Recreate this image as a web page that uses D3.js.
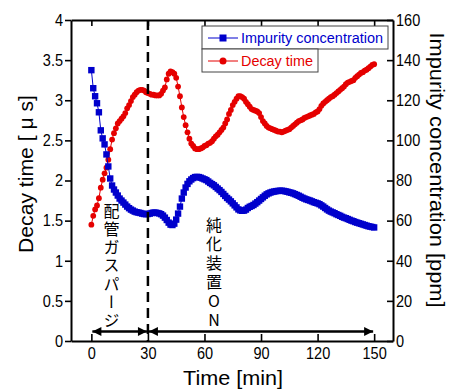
<!DOCTYPE html>
<html>
<head>
<meta charset="utf-8">
<script src="https://cdn.jsdelivr.net/npm/d3@7"></script>
<style>
  body { margin: 0; background: #fff; }
  svg { display: block; }
</style>
</head>
<body>
<div id="chart"></div>
<script>
// Sampling times [min], one reading per minute
const timeMin = [
  0, 1, 2, 3, 4, 5, 6, 7, 8, 9, 10, 11, 12, 13, 14, 15, 16, 17, 18, 19,
  20, 21, 22, 23, 24, 25, 26, 27, 28, 29, 30, 31, 32, 33, 34, 35, 36, 37, 38, 39,
  40, 41, 42, 43, 44, 45, 46, 47, 48, 49, 50, 51, 52, 53, 54, 55, 56, 57, 58, 59,
  60, 61, 62, 63, 64, 65, 66, 67, 68, 69, 70, 71, 72, 73, 74, 75, 76, 77, 78, 79,
  80, 81, 82, 83, 84, 85, 86, 87, 88, 89, 90, 91, 92, 93, 94, 95, 96, 97, 98, 99,
  100, 101, 102, 103, 104, 105, 106, 107, 108, 109, 110, 111, 112, 113, 114, 115, 116, 117, 118, 119,
  120, 121, 122, 123, 124, 125, 126, 127, 128, 129, 130, 131, 132, 133, 134, 135, 136, 137, 138, 139,
  140, 141, 142, 143, 144, 145, 146, 147, 148, 149, 150
];

// Impurity concentration [ppm] (right axis)
const impurityPpm = [
  135, 126, 122, 118.5, 114, 105, 101, 98, 93, 87, 81, 77.5, 75.5, 74, 72.5, 71, 70, 69, 68, 67,
  66.2, 65.5, 65, 64.5, 64.2, 64, 63.8, 63.5, 63.3, 63.2, 63.3, 63.5, 63.8, 64, 64, 63.8, 63.6, 63.2, 62.5, 61.5,
  60.3, 59, 58, 57.8, 58.5, 60.5, 63.5, 67, 71, 74, 76.5, 78.3, 79.6, 80.5, 81.2, 81.7, 81.8, 81.7, 81.4, 81,
  80.6, 80.2, 79.5, 78.8, 78.2, 77.6, 76.8, 76, 75.2, 74.3, 73.3, 72.3, 71.3, 70.5, 69.6, 68.6, 67.6, 66.6, 65.6, 65.1,
  64.9, 65, 65.5, 66.3, 66.9, 67.3, 67.8, 68.5, 69.2, 70, 70.8, 71.6, 72.4, 73.1, 73.6, 74, 74.3, 74.5, 74.7, 74.8,
  74.9, 74.9, 74.8, 74.6, 74.4, 74.1, 73.9, 73.6, 73.2, 72.8, 72.4, 71.9, 71.4, 71, 70.6, 70.3, 70, 69.6, 69.2, 68.9,
  68.6, 68.2, 67.6, 67, 66.3, 65.6, 65, 64.5, 64.1, 63.7, 63.2, 62.8, 62.4, 61.9, 61.5, 61.2, 60.8, 60.4, 60, 59.7,
  59.3, 59, 58.7, 58.4, 58.1, 57.8, 57.5, 57.2, 57, 56.8, 56.6
];

// Decay time [us] (left axis)
const decayUs = [
  1.45, 1.56, 1.64, 1.69, 1.78, 1.91, 2.01, 2.09, 2.16, 2.26, 2.39, 2.51, 2.59, 2.65, 2.71, 2.74, 2.77, 2.80, 2.84, 2.90,
  2.94, 2.99, 3.04, 3.07, 3.10, 3.12, 3.13, 3.13, 3.12, 3.10, 3.09, 3.08, 3.07, 3.07, 3.06, 3.06, 3.06, 3.08, 3.12, 3.16,
  3.26, 3.33, 3.36, 3.35, 3.33, 3.28, 3.17, 3.05, 2.91, 2.79, 2.69, 2.60, 2.52, 2.46, 2.43, 2.40, 2.39, 2.39, 2.40, 2.41,
  2.43, 2.44, 2.46, 2.47, 2.49, 2.52, 2.55, 2.57, 2.60, 2.63, 2.66, 2.71, 2.76, 2.83, 2.88, 2.94, 2.98, 3.02, 3.05, 3.05,
  3.04, 3.02, 2.98, 2.95, 2.92, 2.89, 2.88, 2.87, 2.86, 2.84, 2.79, 2.74, 2.71, 2.68, 2.66, 2.65, 2.64, 2.63, 2.62, 2.61,
  2.61, 2.60, 2.61, 2.62, 2.63, 2.64, 2.66, 2.68, 2.70, 2.72, 2.74, 2.75, 2.76, 2.78, 2.79, 2.80, 2.81, 2.82, 2.83, 2.85,
  2.86, 2.89, 2.93, 2.96, 2.98, 3.00, 3.02, 3.04, 3.05, 3.07, 3.09, 3.11, 3.13, 3.15, 3.17, 3.20, 3.22, 3.23, 3.24, 3.25,
  3.28, 3.30, 3.32, 3.34, 3.35, 3.37, 3.38, 3.40, 3.42, 3.44, 3.45
];

const leftTicks = [0, 0.5, 1, 1.5, 2, 2.5, 3, 3.5, 4];
const rightTicks = [0, 20, 40, 60, 80, 100, 120, 140, 160];
const timeTicks = [0, 30, 60, 90, 120, 150];
const legendLabels = ["Impurity concentration", "Decay time"];
const purgeLabel = "配管ガスパージ";
const purifierLabel = "純化装置ON";

const width = 452, height = 390;
const plotLeft = 71, plotRight = 393, plotTop = 20, plotBottom = 341;
const blue = "#0000cc", red = "#e50000";
const sans = '"Liberation Sans",Arial,sans-serif';
const jp = '"Noto Sans CJK JP","Noto Sans CJK SC",sans-serif';

const svg = d3.select("#chart").append("svg")
    .attr("width", width)
    .attr("height", height);

const defs = svg.append("defs");
defs.append("marker")
    .attr("id", "arrow")
    .attr("viewBox", "0 0 10 10")
    .attr("refX", 10).attr("refY", 5)
    .attr("markerUnits", "userSpaceOnUse")
    .attr("markerWidth", 11).attr("markerHeight", 9)
    .attr("orient", "auto-start-reverse")
    .append("path")
    .attr("d", "M0,0 L10,5 L0,10 Z")
    .attr("fill", "#000");

const x = d3.scaleLinear().domain([-10.8, 160]).range([plotLeft, plotRight]);
const yL = d3.scaleLinear().domain([0, 4]).range([plotBottom, plotTop]);
const yR = d3.scaleLinear().domain([0, 160]).range([plotBottom, plotTop]);

// Series: decay time first, impurity on top
const redLine = d3.line().x((d, i) => x(timeMin[i])).y(d => yL(d));
svg.append("path")
    .attr("d", redLine(decayUs))
    .attr("fill", "none")
    .attr("stroke", red)
    .attr("stroke-width", 1);
svg.append("g")
    .selectAll("circle")
    .data(decayUs)
    .join("circle")
    .attr("cx", (d, i) => x(timeMin[i]))
    .attr("cy", d => yL(d))
    .attr("r", 2.9)
    .attr("fill", red);

const blueLine = d3.line().x((d, i) => x(timeMin[i])).y(d => yR(d));
svg.append("path")
    .attr("d", blueLine(impurityPpm))
    .attr("fill", "none")
    .attr("stroke", blue)
    .attr("stroke-width", 1);
svg.append("g")
    .selectAll("rect")
    .data(impurityPpm)
    .join("rect")
    .attr("x", (d, i) => x(timeMin[i]) - 3.2)
    .attr("y", d => yR(d) - 3.2)
    .attr("width", 6.4)
    .attr("height", 6.4)
    .attr("fill", blue);

// Dashed line at 30 min
svg.append("line")
    .attr("x1", x(30)).attr("x2", x(30))
    .attr("y1", plotTop).attr("y2", plotBottom)
    .attr("stroke", "#000")
    .attr("stroke-width", 2.5)
    .attr("stroke-dasharray", "10,6");

// Double arrows for the two phases
const arrowY = 331.5;
[[0, 30], [30, 150]].forEach(([a, b]) => {
    svg.append("line")
        .attr("x1", x(a) + 1).attr("x2", x(b) - 1)
        .attr("y1", arrowY).attr("y2", arrowY)
        .attr("stroke", "#000")
        .attr("stroke-width", 2.5)
        .attr("marker-start", "url(#arrow)")
        .attr("marker-end", "url(#arrow)");
});

// Vertical Japanese labels
function verticalText(str, cx, yTop, spacing) {
    svg.append("text")
        .attr("x", cx).attr("y", yTop)
        .attr("font-family", jp)
        .attr("font-size", 16)
        .attr("fill", "#000")
        .style("writing-mode", "vertical-rl")
        .style("text-orientation", "upright")
        .style("letter-spacing", spacing + "px")
        .text(str);
}
verticalText(purgeLabel, 111.5, 202.5, 2.3);
verticalText(purifierLabel, 214, 216.5, 3.1);

// Axes
function styleAxis(g) {
    g.select(".domain").attr("stroke", "#000").attr("stroke-width", 2);
    g.selectAll(".tick line").attr("stroke", "#000").attr("stroke-width", 1.6);
    g.selectAll(".tick text")
        .attr("font-family", sans)
        .attr("font-size", 16.5)
        .attr("fill", "#000")
        .each(function () {
            // squeeze labels to the narrow look of the original
            const len = this.getComputedTextLength();
            d3.select(this)
                .attr("textLength", len * 0.88)
                .attr("lengthAdjust", "spacingAndGlyphs");
        });
}

svg.append("g")
    .attr("transform", `translate(${plotLeft},0)`)
    .call(d3.axisLeft(yL).tickValues(leftTicks).tickSizeInner(6).tickSizeOuter(0).tickPadding(2)
        .tickFormat(d => String(d)))
    .call(styleAxis);

svg.append("g")
    .attr("transform", `translate(${plotRight},0)`)
    .call(d3.axisRight(yR).tickValues(rightTicks).tickSizeInner(-6).tickSizeOuter(0).tickPadding(3)
        .tickFormat(d => String(d)))
    .call(styleAxis);

svg.append("g")
    .attr("transform", `translate(0,${plotBottom})`)
    .call(d3.axisBottom(x).tickValues(timeTicks).tickSizeInner(-7).tickSizeOuter(0).tickPadding(6)
        .tickFormat(d => String(d)))
    .call(styleAxis);

svg.append("g")
    .attr("transform", `translate(0,${plotTop})`)
    .call(d3.axisTop(x).tickValues(timeTicks).tickSizeInner(-6).tickSizeOuter(0).tickFormat(""))
    .call(styleAxis);

// Axis titles
svg.append("text")
    .attr("transform", "translate(33,174) rotate(-90)")
    .attr("text-anchor", "middle")
    .attr("font-family", sans)
    .attr("font-size", 20)
    .attr("textLength", 158)
    .attr("lengthAdjust", "spacingAndGlyphs")
    .text("Decay time [ μ s]");

svg.append("text")
    .attr("transform", "translate(430,170) rotate(90)")
    .attr("text-anchor", "middle")
    .attr("font-family", sans)
    .attr("font-size", 20)
    .attr("textLength", 275)
    .attr("lengthAdjust", "spacingAndGlyphs")
    .text("Impurity concentration [ppm]");

svg.append("text")
    .attr("x", 233).attr("y", 385)
    .attr("text-anchor", "middle")
    .attr("font-family", sans)
    .attr("font-size", 20)
    .attr("textLength", 100)
    .attr("lengthAdjust", "spacingAndGlyphs")
    .text("Time [min]");

// Legend
const legend = svg.append("g");
const rows = [
    { label: legendLabels[0], color: blue, w: 186, textW: 142, shape: "square" },
    { label: legendLabels[1], color: red, w: 116, textW: 72, shape: "circle" }
];
rows.forEach((r, i) => {
    const y0 = 26 + i * 23;
    const cy = y0 + 12;
    legend.append("rect")
        .attr("x", 202).attr("y", y0)
        .attr("width", r.w).attr("height", 23)
        .attr("fill", "#fff")
        .attr("stroke", "#444")
        .attr("stroke-width", 1);
    legend.append("line")
        .attr("x1", 208).attr("x2", 238)
        .attr("y1", cy).attr("y2", cy)
        .attr("stroke", r.color).attr("stroke-width", 1);
    if (r.shape === "square") {
        legend.append("rect")
            .attr("x", 223 - 3.5).attr("y", cy - 3.5)
            .attr("width", 7).attr("height", 7)
            .attr("fill", r.color);
    } else {
        legend.append("circle")
            .attr("cx", 223).attr("cy", cy).attr("r", 3.5)
            .attr("fill", r.color);
    }
    legend.append("text")
        .attr("x", 241).attr("y", cy + 5)
        .attr("font-family", sans)
        .attr("font-size", 14)
        .attr("fill", r.color)
        .attr("textLength", r.textW)
        .attr("lengthAdjust", "spacingAndGlyphs")
        .text(r.label);
});
</script>
</body>
</html>
